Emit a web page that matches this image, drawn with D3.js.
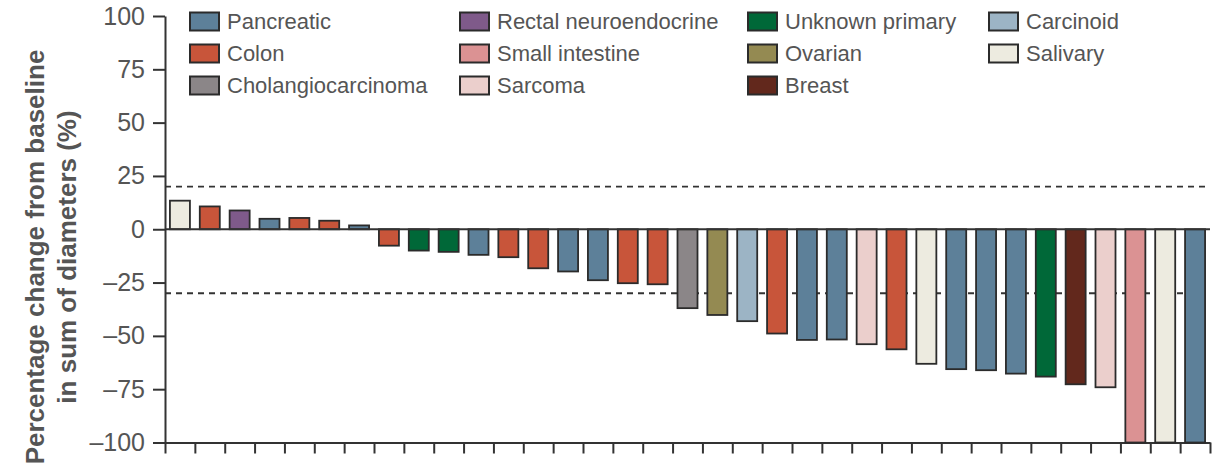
<!DOCTYPE html>
<html>
<head>
<meta charset="utf-8">
<script src="https://cdn.jsdelivr.net/npm/d3@7"></script>
<style>
  body { margin: 0; background: #fff; }
  svg { display: block; font-family: "Liberation Sans", Arial, sans-serif; }
</style>
</head>
<body>
<svg id="chart" width="1225" height="471"></svg>
<script>
// tumour type of each patient, in plot order
var tumours = ["Salivary", "Colon", "Rectal neuroendocrine", "Pancreatic", "Colon", "Colon", "Pancreatic",
  "Colon", "Unknown primary", "Unknown primary", "Pancreatic", "Colon", "Colon", "Pancreatic", "Pancreatic",
  "Colon", "Colon", "Cholangiocarcinoma", "Ovarian", "Carcinoid", "Colon", "Pancreatic", "Pancreatic",
  "Sarcoma", "Colon", "Salivary", "Pancreatic", "Pancreatic", "Pancreatic", "Unknown primary", "Breast",
  "Sarcoma", "Small intestine", "Salivary", "Pancreatic"];

// best change from baseline (%)
var changes = [13.4, 10.7, 8.8, 4.9, 5.3, 4.0, 1.8,
  -7.7, -10.0, -10.6, -12.0, -13.1, -18.3, -19.8, -23.9,
  -25.3, -25.8, -37.0, -40.2, -43.1, -48.9, -51.9, -51.7,
  -53.9, -56.3, -63.1, -65.6, -66.1, -67.7, -69.1, -72.7,
  -74.1, -100, -100, -100];

var legendNames = ["Pancreatic", "Colon", "Cholangiocarcinoma",
  "Rectal neuroendocrine", "Small intestine", "Sarcoma",
  "Unknown primary", "Ovarian", "Breast",
  "Carcinoid", "Salivary"];
var legendColors = ["#5d8099", "#c8553a", "#8b8688",
  "#7f5a8a", "#db9293", "#ebcfcc",
  "#006838", "#948a52", "#62281c",
  "#9cb4c5", "#edebe0"];

var yTicks = [100, 75, 50, 25, 0, -25, -50, -75, -100];
var thresholds = [20, -30];

var svg = d3.select("#chart");
var plotLeft = 165, plotRight = 1210, plotTop = 16, plotBottom = 442.5;

var color = d3.scaleOrdinal().domain(legendNames).range(legendColors);

var x = d3.scaleBand()
  .domain(d3.range(changes.length))
  .range([plotLeft, plotRight])
  .paddingInner(0.33)
  .paddingOuter(0.165);

var y = d3.scaleLinear().domain([-100, 100]).range([plotBottom, plotTop]);

// tick positions between bars
var xEdges = d3.scaleLinear().domain([0, changes.length]).range([plotLeft, plotRight]);

var ink = "#333";
var textCol = "#555";

// y axis
var yAxis = svg.append("g")
  .attr("transform", "translate(" + plotLeft + ",0)")
  .call(d3.axisLeft(y).tickValues(yTicks).tickSize(12).tickSizeOuter(0).tickPadding(8)
    .tickFormat(function(d) { return d < 0 ? "\u2013" + Math.abs(d) : d; }));
yAxis.select(".domain").attr("stroke", ink).attr("stroke-width", 2);
yAxis.selectAll(".tick line").attr("stroke", ink).attr("stroke-width", 2);
yAxis.selectAll(".tick text")
  .attr("fill", textCol)
  .attr("font-size", 25)
  .attr("font-family", "Liberation Sans, Arial, sans-serif");

// x axis (ticks only)
var xAxis = svg.append("g")
  .attr("transform", "translate(0," + plotBottom + ")")
  .call(d3.axisBottom(xEdges).tickValues(d3.range(changes.length + 1))
    .tickSize(11).tickSizeOuter(0).tickFormat(""));
xAxis.select(".domain").attr("stroke", ink).attr("stroke-width", 2);
xAxis.selectAll(".tick line").attr("stroke", ink).attr("stroke-width", 2);

// threshold lines
svg.selectAll(".thresh")
  .data(thresholds)
  .enter().append("line")
    .attr("class", "thresh")
    .attr("x1", plotLeft)
    .attr("x2", plotRight)
    .attr("y1", function(d) { return y(d); })
    .attr("y2", function(d) { return y(d); })
    .attr("stroke", "#333")
    .attr("stroke-width", 1.9)
    .attr("stroke-dasharray", "6,5");

// bars
svg.selectAll(".bar")
  .data(changes)
  .enter().append("rect")
    .attr("class", "bar")
    .attr("x", function(d, i) { return x(i); })
    .attr("width", x.bandwidth())
    .attr("y", function(d) { return y(Math.max(0, d)); })
    .attr("height", function(d) { return Math.abs(y(d) - y(0)); })
    .attr("fill", function(d, i) { return color(tumours[i]); })
    .attr("stroke", "#2b2b2b")
    .attr("stroke-width", 1.8);

// zero line
svg.append("line")
  .attr("x1", plotLeft).attr("x2", plotRight)
  .attr("y1", y(0)).attr("y2", y(0))
  .attr("stroke", ink)
  .attr("stroke-width", 2);

// y title
var title = svg.append("text")
  .attr("transform", "translate(0,257) rotate(-90)")
  .attr("text-anchor", "middle")
  .attr("font-weight", "bold")
  .attr("font-size", 26)
  .attr("fill", textCol);
title.append("tspan").attr("x", 0).attr("y", 44).text("Percentage change from baseline");
title.append("tspan").attr("x", 0).attr("y", 76).text("in sum of diameters (%)");

// legend, 4 columns of 3 rows
var colX = [190, 460, 748, 989];
var legend = svg.selectAll(".legend")
  .data(legendNames)
  .enter().append("g")
    .attr("class", "legend")
    .attr("transform", function(d, i) {
      return "translate(" + colX[Math.floor(i / 3)] + "," + (12.5 + (i % 3) * 32) + ")";
    });

legend.append("rect")
  .attr("width", 29)
  .attr("height", 18)
  .attr("fill", function(d) { return color(d); })
  .attr("stroke", "#2b2b2b")
  .attr("stroke-width", 2);

legend.append("text")
  .attr("x", 37)
  .attr("y", 9)
  .attr("dy", "0.36em")
  .attr("font-size", 22)
  .attr("fill", textCol)
  .text(function(d) { return d; });
</script>
</body>
</html>
